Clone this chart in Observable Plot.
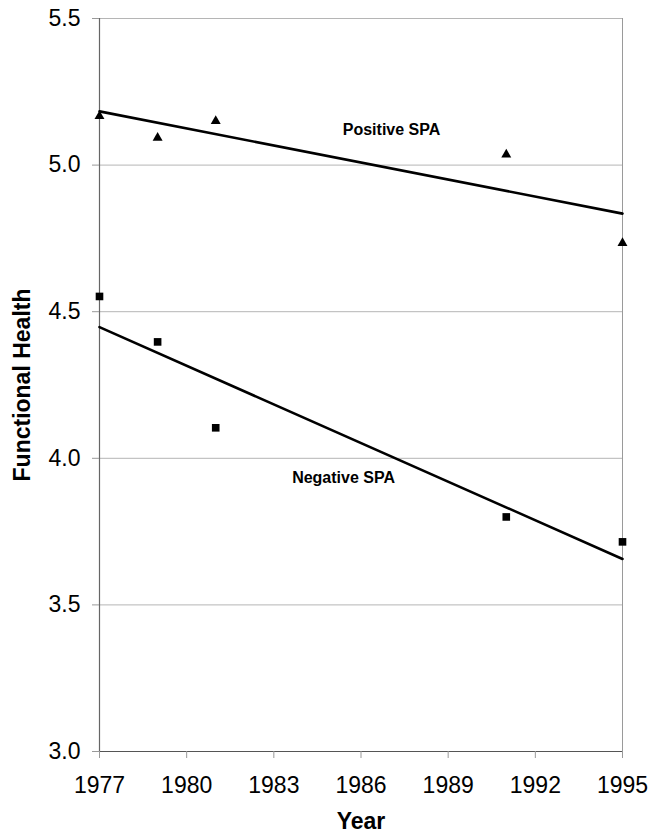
<!DOCTYPE html>
<html>
<head>
<meta charset="utf-8">
<script src="https://cdn.jsdelivr.net/npm/d3@7"></script>
<script src="https://cdn.jsdelivr.net/npm/@observablehq/plot@0.6"></script>
<style>
  html, body { margin: 0; padding: 0; background: #fff; }
</style>
</head>
<body>
<div id="chart"></div>
<script>
const years = [1977, 1979, 1981, 1991, 1995];
const positiveSPA = [5.167, 5.093, 5.150, 5.036, 4.734];
const negativeSPA = [4.552, 4.397, 4.104, 3.800, 3.715];
const xTicks = [1977, 1980, 1983, 1986, 1989, 1992, 1995];
const yTicks = [3.0, 3.5, 4.0, 4.5, 5.0, 5.5];
const groupLabels = ["Positive SPA", "Negative SPA"];
const labelYears = [1987.05, 1985.4];
const labelValues = [5.119, 3.932];
const xTitle = "Year";
const yTitle = "Functional Health";

const pos = years.map((x, i) => ({x, y: positiveSPA[i]}));
const neg = years.map((x, i) => ({x, y: negativeSPA[i]}));
const labels = groupLabels.map((t, i) => ({t, x: labelYears[i], y: labelValues[i]}));

const chart = Plot.plot({
  width: 651,
  height: 839,
  marginLeft: 99,
  marginRight: 29,
  marginTop: 18,
  marginBottom: 88,
  style: {fontFamily: "'Liberation Sans', Arial, sans-serif", background: "#fff", color: "#000"},
  x: {domain: [1977, 1995]},
  y: {domain: [3, 5.5]},
  marks: [
    Plot.ruleY(yTicks.slice(1), {stroke: "#b5b5b5", strokeWidth: 1}),
    Plot.ruleX([1995], {stroke: "#9a9a9a", strokeWidth: 1}),
    Plot.ruleX([1977], {stroke: "#666", strokeWidth: 1.2}),
    Plot.ruleY([3], {stroke: "#555", strokeWidth: 1.2}),
    Plot.axisX({ticks: xTicks, tickFormat: d => String(d), tickSize: 7, tickPadding: 18, fontSize: 23, stroke: "#999", fill: "#000", label: null}),
    Plot.axisY({ticks: yTicks, tickFormat: d3.format(".1f"), tickSize: 7, tickPadding: 12, fontSize: 23, stroke: "#999", fill: "#000", label: null}),
    Plot.linearRegressionY(pos, {x: "x", y: "y", stroke: "#000", strokeWidth: 2.6, ci: 0}),
    Plot.linearRegressionY(neg, {x: "x", y: "y", stroke: "#000", strokeWidth: 2.6, ci: 0}),
    Plot.dot(pos, {x: "x", y: "y", symbol: "triangle", r: 3.7, fill: "#000", stroke: "none"}),
    Plot.dot(neg, {x: "x", y: "y", symbol: "square", r: 4.3, fill: "#000", stroke: "none"}),
    Plot.text(labels, {x: "x", y: "y", text: "t", fontSize: 16, fontWeight: "bold", fill: "#000"}),
    Plot.text([xTitle], {frameAnchor: "bottom", textAnchor: "middle", dy: 77, fontSize: 23, fontWeight: "bold", fill: "#000"}),
    Plot.text([yTitle], {frameAnchor: "left", textAnchor: "middle", dx: -77, rotate: -90, fontSize: 23, fontWeight: "bold", fill: "#000"})
  ]
});
document.getElementById("chart").appendChild(chart);
</script>
</body>
</html>
